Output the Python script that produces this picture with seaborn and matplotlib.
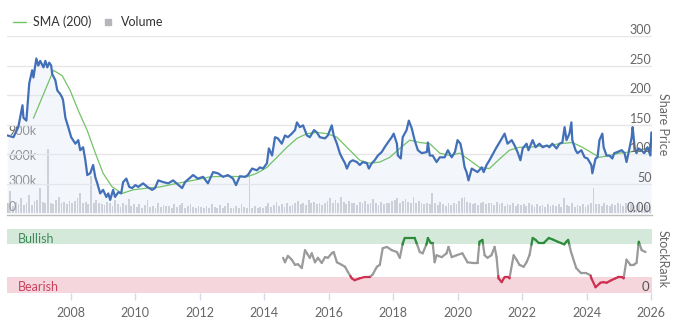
import matplotlib
matplotlib.use("Agg")
import matplotlib.pyplot as plt
from matplotlib.collections import LineCollection
from matplotlib.lines import Line2D
from matplotlib import transforms
import numpy as np
import seaborn as sns

# ---- share price (decimal year, price) ----
price_t = [2006.03, 2006.22, 2006.37, 2006.50, 2006.53, 2006.62, 2006.71, 2006.80, 2006.84, 2006.93,
           2006.99, 2007.05, 2007.15, 2007.21, 2007.27, 2007.33, 2007.39, 2007.42, 2007.52, 2007.58,
           2007.67, 2007.73, 2007.76, 2007.83, 2007.92, 2008.01, 2008.07, 2008.14, 2008.23, 2008.29,
           2008.38, 2008.45, 2008.51, 2008.60, 2008.69, 2008.76, 2008.82, 2008.91, 2009.00, 2009.10,
           2009.16, 2009.22, 2009.31, 2009.37, 2009.47, 2009.56, 2009.62, 2009.72, 2009.81, 2009.90,
           2010.00, 2010.09, 2010.24, 2010.37, 2010.52, 2010.61, 2010.71, 2010.87, 2011.02, 2011.17,
           2011.45, 2011.54, 2011.79, 2011.94, 2012.10, 2012.25, 2012.41, 2012.56, 2012.72, 2012.87,
           2013.03, 2013.12, 2013.24, 2013.40, 2013.49, 2013.62, 2013.77, 2013.86, 2013.96, 2014.08,
           2014.14, 2014.24, 2014.33, 2014.42, 2014.54, 2014.64, 2014.73, 2014.85, 2014.95, 2015.01,
           2015.10, 2015.20, 2015.32, 2015.41, 2015.54, 2015.63, 2015.72, 2015.88, 2015.97, 2016.09,
           2016.15, 2016.25, 2016.34, 2016.40, 2016.50, 2016.56, 2016.65, 2016.74, 2016.87, 2016.96,
           2017.05, 2017.18, 2017.24, 2017.33, 2017.42, 2017.52, 2017.64, 2017.73, 2017.83, 2017.95,
           2018.01, 2018.11, 2018.14, 2018.23, 2018.29, 2018.41, 2018.48, 2018.57, 2018.66, 2018.76,
           2018.88, 2019.04, 2019.07, 2019.13, 2019.22, 2019.34, 2019.44, 2019.59, 2019.69, 2019.81,
           2019.91, 2019.99, 2020.08, 2020.14, 2020.21, 2020.27, 2020.33, 2020.43, 2020.52, 2020.61,
           2020.74, 2020.80, 2020.89, 2020.98, 2021.08, 2021.20, 2021.29, 2021.45, 2021.54, 2021.67,
           2021.76, 2021.85, 2021.94, 2022.01, 2022.13, 2022.19, 2022.32, 2022.41, 2022.53, 2022.63,
           2022.76, 2022.84, 2022.93, 2023.06, 2023.15, 2023.24, 2023.31, 2023.37, 2023.46, 2023.52,
           2023.55, 2023.65, 2023.71, 2023.83, 2023.93, 2024.02, 2024.14, 2024.17, 2024.27, 2024.33,
           2024.39, 2024.48, 2024.52, 2024.61, 2024.70, 2024.79, 2024.85, 2024.95, 2025.08, 2025.17,
           2025.23, 2025.29, 2025.39, 2025.42, 2025.48, 2025.54, 2025.60, 2025.69, 2025.78, 2025.88,
           2025.97, 2026.00]
price = [132, 129, 146, 183, 162, 157, 220, 242, 230, 262,
         250, 258, 247, 258, 247, 255, 250, 236, 225, 208,
         202, 196, 191, 162, 146, 129, 124, 118, 124, 107,
         112, 90, 65, 68, 82, 61, 51, 34, 40, 28,
         34, 23, 40, 28, 36, 34, 53, 59, 45, 43,
         48, 45, 51, 45, 40, 43, 56, 53, 51, 56,
         43, 53, 65, 59, 62, 51, 70, 68, 62, 65,
         59, 48, 63, 62, 65, 76, 73, 78, 76, 85,
         110, 98, 129, 127, 118, 132, 129, 135, 141, 154,
         146, 149, 132, 129, 141, 137, 129, 127, 132, 149,
         132, 118, 102, 95, 85, 76, 87, 90, 87, 82,
         87, 85, 76, 85, 90, 98, 104, 112, 120, 129,
         135, 118, 98, 93, 129, 141, 157, 144, 124, 107,
         102, 104, 120, 98, 98, 87, 95, 95, 107, 95,
         104, 124, 118, 102, 78, 70, 56, 76, 73, 70,
         78, 70, 82, 90, 100, 112, 120, 135, 118, 124,
         115, 104, 90, 110, 118, 107, 124, 112, 118, 112,
         115, 112, 118, 110, 118, 120, 146, 124, 135, 154,
         124, 107, 102, 107, 95, 93, 82, 68, 93, 95,
         124, 135, 112, 98, 98, 93, 102, 104, 107, 102,
         87, 102, 129, 146, 112, 102, 110, 107, 102, 112,
         98, 137]

# ---- 200-day simple moving average ----
sma_t = [2006.84, 2007.46, 2007.73, 2007.98, 2008.23, 2008.51, 2008.76, 2009.00, 2009.28, 2009.59,
         2009.93, 2010.37, 2010.77, 2011.29, 2011.79, 2012.32, 2012.84, 2013.46, 2013.77, 2014.08,
         2014.39, 2014.70, 2015.01, 2015.32, 2015.63, 2015.94, 2016.25, 2016.34, 2016.65, 2016.96,
         2017.27, 2017.58, 2017.89, 2018.20, 2018.51, 2018.82, 2019.13, 2019.44, 2019.75, 2020.06,
         2020.37, 2020.67, 2020.98, 2021.29, 2021.60, 2021.91, 2022.22, 2022.53, 2022.84, 2023.15,
         2023.55, 2023.86, 2024.17, 2024.39, 2024.70, 2025.01, 2025.33, 2025.63, 2026.00]
sma = [161, 242, 233, 208, 174, 140, 102, 68, 45, 34,
       40, 43, 45, 51, 56, 62, 63, 62, 68, 78,
       95, 112, 127, 135, 137, 135, 129, 124, 107, 90,
       85, 87, 95, 110, 124, 120, 118, 102, 98, 102,
       90, 78, 76, 92, 107, 112, 112, 114, 115, 118,
       120, 112, 102, 95, 98, 102, 104, 107, 112]

# ---- monthly traded volume (thousands of shares), Jan 2006 .. Dec 2025 ----
volume_start = 2006
volume_k = [
    120, 270, 90, 140, 110, 180, 95, 130, 220, 100, 150, 160,   # 2006
    300, 140, 120, 770, 130, 110, 160, 200, 120, 140, 110, 150,  # 2007
    130, 150, 180, 240, 120, 140, 110, 450, 130, 160, 120, 110,  # 2008
    100, 140, 120, 90, 160, 110, 80, 130, 100, 170, 90, 110,     # 2009
    80, 110, 70, 100, 160, 80, 90, 70, 120, 80, 100, 90,         # 2010
    90, 70, 110, 80, 100, 130, 70, 90, 110, 80, 60, 90,          # 2011
    80, 60, 90, 70, 110, 80, 60, 100, 70, 90, 130, 60,           # 2012
    70, 90, 60, 110, 80, 70, 520, 60, 90, 70, 80, 60,            # 2013
    90, 120, 80, 100, 140, 90, 110, 80, 130, 90, 100, 120,       # 2014
    150, 110, 130, 100, 160, 120, 140, 110, 130, 100, 120, 150,  # 2015
    180, 130, 160, 120, 200, 140, 110, 150, 120, 130, 100, 140,  # 2016
    120, 150, 110, 130, 170, 120, 100, 140, 110, 130, 120, 150,  # 2017
    160, 180, 130, 150, 170, 140, 120, 200, 130, 150, 120, 110,  # 2018
    130, 110, 240, 120, 100, 140, 110, 90, 120, 100, 130, 110,   # 2019
    150, 180, 200, 140, 120, 110, 130, 100, 120, 140, 110, 130,  # 2020
    120, 100, 140, 110, 130, 90, 110, 100, 120, 90, 110, 100,    # 2021
    110, 90, 120, 100, 80, 110, 90, 100, 80, 110, 90, 100,       # 2022
    90, 110, 80, 180, 100, 90, 120, 80, 100, 90, 110, 80,        # 2023
    100, 120, 300, 110, 110, 90, 120, 100, 90, 110, 100, 120,    # 2024
    110, 90, 120, 100, 110, 90, 100, 120, 90, 110, 100, 90,      # 2025
]

# ---- StockRank ----
rank_t = [2014.58, 2014.64, 2014.73, 2014.85, 2014.95, 2015.04, 2015.16, 2015.26, 2015.32, 2015.41,
          2015.47, 2015.57, 2015.66, 2015.78, 2015.88, 2015.97, 2016.09, 2016.15, 2016.25, 2016.40,
          2016.50, 2016.59, 2016.71, 2016.80, 2016.96, 2017.11, 2017.27, 2017.36, 2017.49, 2017.58,
          2017.67, 2017.80, 2017.95, 2018.11, 2018.20, 2018.29, 2018.35, 2018.51, 2018.66, 2018.72,
          2018.82, 2018.91, 2019.04, 2019.07, 2019.16, 2019.22, 2019.28, 2019.34, 2019.50, 2019.65,
          2019.71, 2019.81, 2019.96, 2020.14, 2020.30, 2020.45, 2020.61, 2020.67, 2020.76, 2020.83,
          2020.92, 2021.04, 2021.14, 2021.20, 2021.26, 2021.36, 2021.45, 2021.57, 2021.60, 2021.73,
          2021.82, 2021.91, 2022.04, 2022.13, 2022.22, 2022.32, 2022.41, 2022.51, 2022.66, 2022.82,
          2022.97, 2023.10, 2023.20, 2023.30, 2023.36, 2023.42, 2023.51, 2023.67, 2023.82, 2023.98,
          2024.11, 2024.14, 2024.27, 2024.42, 2024.51, 2024.61, 2024.76, 2024.89, 2024.98, 2025.08,
          2025.14, 2025.23, 2025.35, 2025.45, 2025.54, 2025.61, 2025.70, 2025.82]
rank = [55, 48, 58, 52, 44, 45, 39, 67, 62, 55,
        62, 48, 55, 47, 56, 55, 62, 64, 48, 44,
        41, 33, 23, 20, 23, 25, 25, 29, 41, 44,
        70, 72, 67, 64, 55, 77, 86, 86, 86, 78,
        64, 62, 78, 86, 78, 78, 48, 59, 56, 62,
        72, 56, 59, 62, 48, 47, 47, 80, 83, 59,
        55, 59, 72, 56, 23, 17, 25, 25, 23, 59,
        52, 44, 41, 48, 59, 86, 83, 78, 78, 86,
        83, 80, 78, 76, 80, 83, 64, 39, 31, 31,
        28, 23, 9, 16, 17, 16, 20, 23, 25, 25,
        23, 52, 44, 44, 47, 80, 67, 64]

year_ticks = [2008, 2010, 2012, 2014, 2016, 2018, 2020, 2022, 2024, 2026]
price_ticks = [0, 50, 100, 150, 200, 250, 300]
price_tick_labels = ["0.00", "50", "100", "150", "200", "250", "300"]
volume_ticks = [0, 300, 600, 900]
volume_tick_labels = ["0", "300k", "600k", "900k"]
bearish_top, bullish_bottom = 25, 77

# ---- styling ----
sns.set_theme(style="white")
plt.rcParams["font.family"] = ["Lato", "DejaVu Sans"]
LABEL = "#666666"
PRICE_BLUE = "#4270b8"
SMA_GREEN = "#72c366"
GRID = "#e6e6e6"

W, H = 674, 327
fig = plt.figure(figsize=(W / 100, H / 100), dpi=100)


def box(x0, y0, x1, y1):
    return [x0 / W, 1 - y1 / H, (x1 - x0) / W, (y1 - y0) / H]


ax_vol = fig.add_axes(box(7, 36, 652, 215))
ax_px = ax_vol.twinx()
ax_rank = fig.add_axes(box(7, 229, 652, 293), sharex=ax_vol)

xlim = (2006.02, 2026.02)

# volume bars (bottom layer)
vol_t = [volume_start + (i + 0.5) / 12 for i in range(len(volume_k))]
ax_vol.bar(vol_t, volume_k, width=0.055, color="#c4c4c8", linewidth=0, zorder=2)
ax_vol.set_ylim(-18, 2105)
ax_vol.set_xlim(*xlim)

# price gridlines
for v in price_ticks[1:]:
    ax_px.axhline(v, color=GRID, lw=1.0, zorder=0)

# price area + line, and SMA
ax_px.fill_between(price_t, price, 0, color="#dfe8f6", alpha=0.35, lw=0, zorder=1)
sns.lineplot(x=sma_t, y=sma, ax=ax_px, color=SMA_GREEN, lw=0.9, zorder=3)
sns.lineplot(x=price_t, y=price, ax=ax_px, color=PRICE_BLUE, lw=1.6, zorder=4)
ax_px.set_ylim(-2.5, 300)
ax_px.set_xlim(*xlim)

for a in (ax_vol, ax_px):
    a.set_xlabel("")
    a.set_ylabel("")
    a.set_yticks([])
    a.tick_params(axis="x", bottom=False, labelbottom=False)
    for s in a.spines.values():
        s.set_visible(False)
ax_vol.spines["bottom"].set_visible(True)
ax_vol.spines["bottom"].set_color("#bdbdbd")
ax_vol.spines["bottom"].set_linewidth(1.0)

# inside axis labels
right_tr = transforms.blended_transform_factory(ax_px.transAxes, ax_px.transData)
for v, lab in zip(price_ticks, price_tick_labels):
    ax_px.text(0.999, v, lab, transform=right_tr, ha="right", va="bottom",
               fontsize=9, color=LABEL, zorder=6)
left_tr = transforms.blended_transform_factory(ax_vol.transAxes, ax_vol.transData)
for v, lab in zip(volume_ticks, volume_tick_labels):
    ax_vol.text(0.002, v + 10, lab, transform=left_tr, ha="left", va="bottom",
                fontsize=9, color=LABEL, zorder=6)

# ---- StockRank panel ----
ax_rank.axhspan(0, bearish_top, color="#f5d6dc", lw=0, zorder=0)
ax_rank.axhspan(bullish_bottom, 100, color="#d4e9da", lw=0, zorder=0)
ax_rank.set_ylim(0, 100)
ax_rank.set_xlim(*xlim)

lo, hi = 26.5, 75.5
grey, red, green = "#9a9a9a", "#d0304f", "#2e8b3c"
segs, cols = [], []
for t0, v0, t1, v1 in zip(rank_t[:-1], rank[:-1], rank_t[1:], rank[1:]):
    cuts = [0.0, 1.0]
    for th in (lo, hi):
        if (v0 - th) * (v1 - th) < 0:
            cuts.append((th - v0) / (v1 - v0))
    cuts.sort()
    for a, b in zip(cuts[:-1], cuts[1:]):
        pa = (t0 + a * (t1 - t0), v0 + a * (v1 - v0))
        pb = (t0 + b * (t1 - t0), v0 + b * (v1 - v0))
        mid = (pa[1] + pb[1]) / 2
        cols.append(red if mid < lo else green if mid > hi else grey)
        segs.append([pa, pb])
lc = LineCollection(segs, colors=cols, linewidths=1.6, capstyle="round", joinstyle="round", zorder=3)
ax_rank.add_collection(lc)

ax_rank.text(0.017, 84, "Bullish", transform=transforms.blended_transform_factory(ax_rank.transAxes, ax_rank.transData),
             ha="left", va="center", fontsize=9, color="#3f8c5a")
ax_rank.text(0.017, 10, "Bearish", transform=transforms.blended_transform_factory(ax_rank.transAxes, ax_rank.transData),
             ha="left", va="center", fontsize=9, color="#c9415f")
ax_rank.text(0.995, 10, "0", transform=transforms.blended_transform_factory(ax_rank.transAxes, ax_rank.transData),
             ha="right", va="center", fontsize=9.5, color="#555555")

ax_rank.set_yticks([])
for s in ax_rank.spines.values():
    s.set_visible(False)
ax_rank.set_xticks(year_ticks)
ax_rank.set_xticklabels([str(y) for y in year_ticks])
ax_rank.tick_params(axis="x", bottom=True, length=5, width=1, color="#d5dbe6",
                    labelsize=9, labelcolor=LABEL, pad=5)

# axis titles on the right
fig.text(663 / W, 1 - 124 / H, "Share Price", rotation=270, ha="center", va="center",
         fontsize=9, color=LABEL)
fig.text(663 / W, 1 - 259 / H, "StockRank", rotation=270, ha="center", va="center",
         fontsize=9, color=LABEL)

# legend
handles = [Line2D([], [], color=SMA_GREEN, lw=1.0),
           Line2D([], [], marker="s", ls="none", color="#b5b5bb", markersize=4)]
fig.legend(handles, ["SMA (200)", "Volume"], loc="center left",
           bbox_to_anchor=(13 / W, 1 - 22 / H), ncol=2, frameon=False,
           borderaxespad=0, borderpad=0, handlelength=1.0, handletextpad=0.6,
           columnspacing=0.8, fontsize=9, labelcolor="#333333")

fig.savefig("out.png", dpi=100)
